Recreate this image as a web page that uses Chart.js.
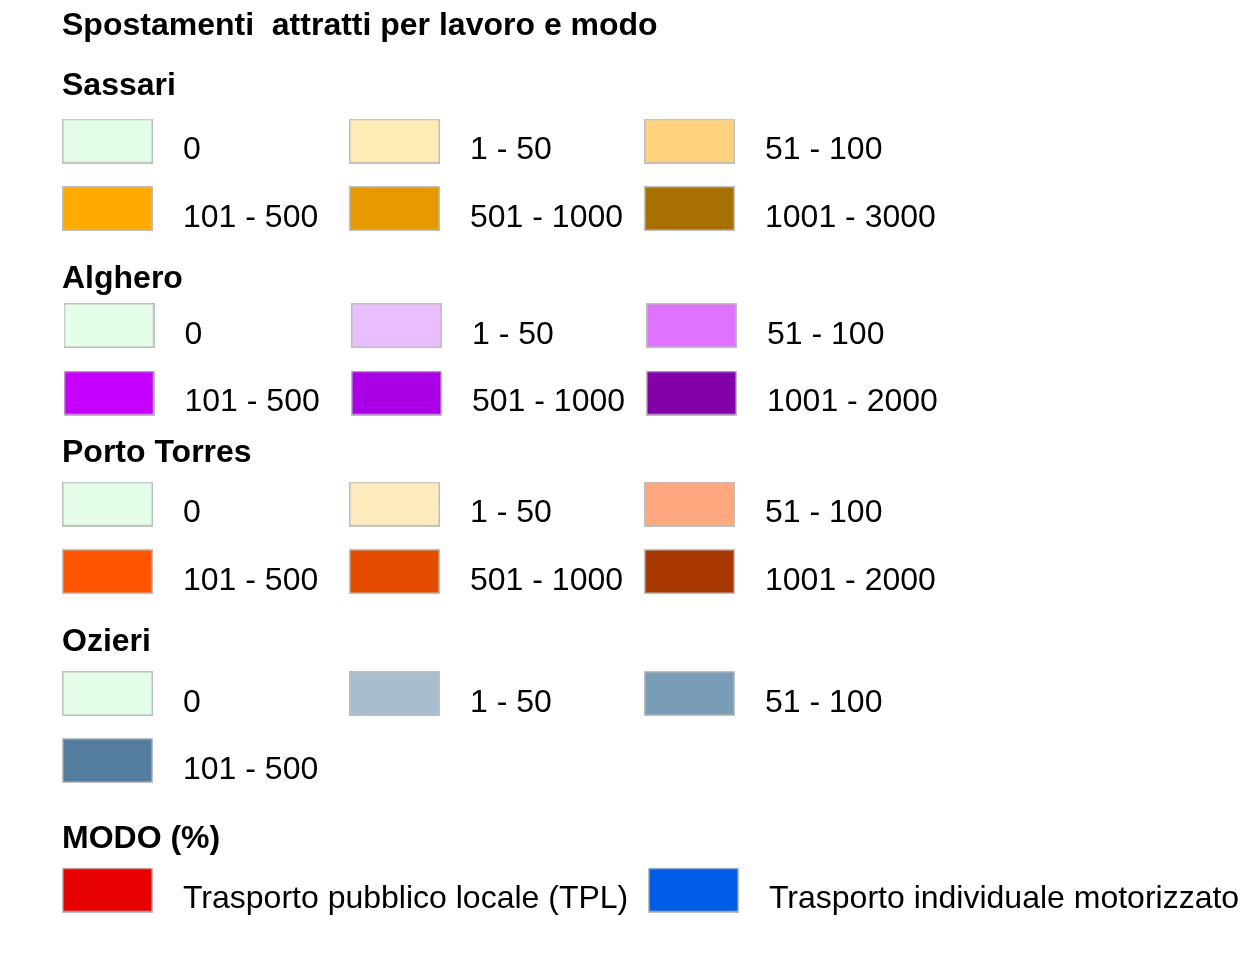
<!DOCTYPE html>
<html>
<head>
<meta charset="utf-8">
<script src="https://cdn.jsdelivr.net/npm/chart.js@4/dist/chart.umd.min.js"></script>
<style>
  html, body { margin: 0; padding: 0; background: #ffffff; }
  #wrap { width: 1243px; height: 966px; position: relative; }
</style>
</head>
<body>
<div id="wrap"><canvas id="c" width="1243" height="966"></canvas></div>
<script>
const titleText = 'Spostamenti  attratti per lavoro e modo';

const sassariTitle = 'Sassari';
const sassariClasses = ['0', '1 - 50', '51 - 100', '101 - 500', '501 - 1000', '1001 - 3000'];
const sassariColors = ['#E3FDE8', '#FFEBB5', '#FFD280', '#FFAA00', '#E69900', '#A87000'];

const algheroTitle = 'Alghero';
const algheroClasses = ['0', '1 - 50', '51 - 100', '101 - 500', '501 - 1000', '1001 - 2000'];
const algheroColors = ['#E3FDE8', '#E8BEFF', '#DF73FF', '#C500FF', '#A900E6', '#8400A8'];

const portoTitle = 'Porto Torres';
const portoClasses = ['0', '1 - 50', '51 - 100', '101 - 500', '501 - 1000', '1001 - 2000'];
const portoColors = ['#E3FDE8', '#FFEBBE', '#FFA77F', '#FF5500', '#E64C00', '#A83800'];

const ozieriTitle = 'Ozieri';
const ozieriClasses = ['0', '1 - 50', '51 - 100', '101 - 500'];
const ozieriColors = ['#E3FDE8', '#A8BECE', '#7A9DB7', '#537C9E'];

const modoTitle = 'MODO (%)';
const modoClasses = ['Trasporto pubblico locale (TPL)', 'Trasporto individuale motorizzato'];
const modoColors = ['#E60000', '#005CE6'];

// ---- Layout (pixel units of the hidden scales) ----
const SW = 91, SH = 45;               // swatch size
const LABEL_GAP = 121;                // swatch left -> label left
const LABEL_DY = 18;                  // swatch center -> label baseline
const sections = [
  { title: sassariTitle, classes: sassariClasses, colors: sassariColors, headerY: 95,  rows: [141, 208.5], cols: [62, 349, 644] },
  { title: algheroTitle, classes: algheroClasses, colors: algheroColors, headerY: 288, rows: [325.5, 393], cols: [63.5, 351, 646] },
  { title: portoTitle,   classes: portoClasses,   colors: portoColors,   headerY: 462, rows: [504, 571.5], cols: [62, 349, 644] },
  { title: ozieriTitle,  classes: ozieriClasses,  colors: ozieriColors,  headerY: 651, rows: [693.5, 760.5], cols: [62, 349, 644] },
  { title: modoTitle,    classes: modoClasses,    colors: modoColors,    headerY: 848, rows: [890], cols: [62, 648], perRow: 2 }
];

function makeSwatch(color) {
  const cv = document.createElement('canvas');
  cv.width = SW; cv.height = SH;
  const g = cv.getContext('2d');
  g.fillStyle = color;
  g.fillRect(0, 0, SW, SH);
  g.strokeStyle = '#BEBEBE';
  g.lineWidth = 1.5;
  g.strokeRect(0.75, 0.75, SW - 1.5, SH - 1.5);
  return cv;
}

const datasets = sections.map(sec => {
  const perRow = sec.perRow || 3;
  const pts = sec.classes.map((lab, i) => ({
    x: sec.cols[i % perRow] + SW / 2,
    y: sec.rows[Math.floor(i / perRow)],
    label: lab
  }));
  const swatches = sec.colors.map(makeSwatch);
  return {
    label: sec.title,
    data: pts,
    pointStyle: swatches,
    pointRadius: 3,
    pointHoverRadius: 3,
    showLine: false
  };
});

const FONT = '"Liberation Sans", Arial, Helvetica, sans-serif';

const textPlugin = {
  id: 'legendText',
  afterDatasetsDraw(chart) {
    const ctx = chart.ctx;
    const xs = chart.scales.x, ys = chart.scales.y;
    ctx.save();
    ctx.fillStyle = '#000000';
    ctx.textAlign = 'left';
    ctx.textBaseline = 'alphabetic';
    // main title
    ctx.font = 'bold 32px ' + FONT;
    ctx.fillText(titleText, xs.getPixelForValue(62), ys.getPixelForValue(35));
    sections.forEach((sec, si) => {
      ctx.font = 'bold 32px ' + FONT;
      ctx.fillText(sec.title, xs.getPixelForValue(62), ys.getPixelForValue(sec.headerY));
      ctx.font = '32px ' + FONT;
      chart.data.datasets[si].data.forEach(p => {
        ctx.fillText(p.label,
          xs.getPixelForValue(p.x - SW / 2 + LABEL_GAP),
          ys.getPixelForValue(p.y + LABEL_DY));
      });
    });
    ctx.restore();
  }
};

new Chart(document.getElementById('c'), {
  type: 'scatter',
  data: { datasets },
  options: {
    responsive: false,
    animation: false,
    layout: { padding: 0, autoPadding: false },
    plugins: { legend: { display: false }, tooltip: { enabled: false } },
    events: [],
    scales: {
      x: { type: 'linear', min: 0, max: 1243, display: false },
      y: { type: 'linear', min: 0, max: 966, reverse: true, display: false }
    }
  },
  plugins: [textPlugin]
});
</script>
</body>
</html>
